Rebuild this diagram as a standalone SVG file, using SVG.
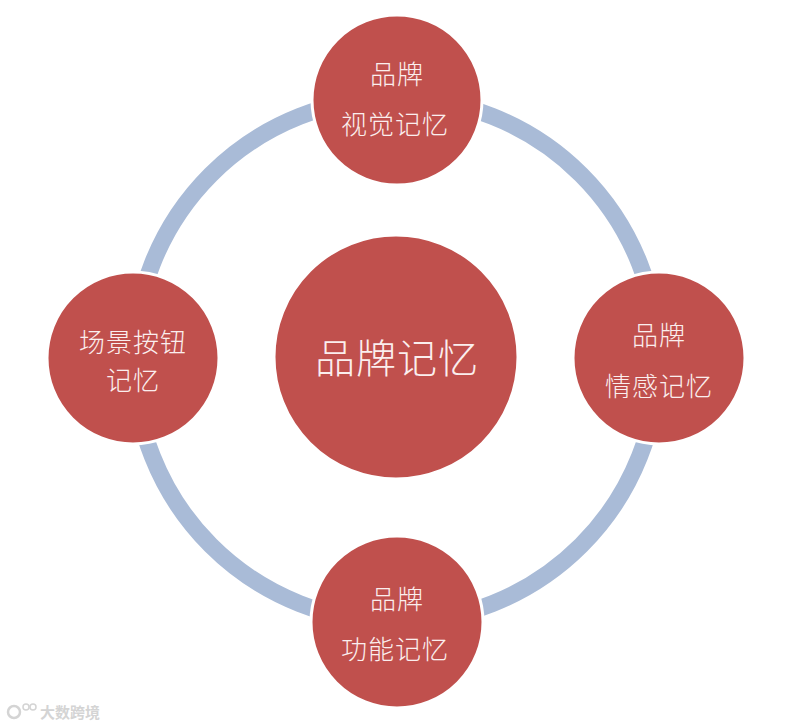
<svg xmlns="http://www.w3.org/2000/svg" width="788" height="727" viewBox="0 0 788 727">
<style>
.node{fill:#c0504d;stroke:#ffffff;stroke-width:3}
.lbl{fill:#fbeeee;font-family:"Noto Sans CJK SC","Noto Sans CJK JP",sans-serif;font-weight:300;text-anchor:middle;dominant-baseline:central}
.s{font-size:26px;letter-spacing:1px}
.b{font-size:40px;letter-spacing:1px}
.wm{fill:#d4d4d4;font-family:"Noto Sans CJK SC",sans-serif;font-size:15px;font-weight:700}
</style>
<rect width="788" height="727" fill="#ffffff"/>
<g id="connectors">
<circle cx="396" cy="360" r="262" fill="none" stroke="#a9bbd7" stroke-width="17"/>
</g>
<g id="center">
<circle class="node" cx="396" cy="357" r="122"/>
<text class="lbl b" x="397" y="356">品牌记忆</text>
</g>
<g id="top">
<circle class="node" cx="397" cy="100" r="85"/>
<text class="lbl s" x="397" y="72">品牌</text>
<text class="lbl s" x="395" y="122">视觉记忆</text>
</g>
<g id="left">
<circle class="node" cx="133" cy="358" r="86"/>
<text class="lbl s" x="133" y="340">场景按钮</text>
<text class="lbl s" x="133" y="378">记忆</text>
</g>
<g id="right">
<circle class="node" cx="659" cy="358" r="86"/>
<text class="lbl s" x="659" y="333">品牌</text>
<text class="lbl s" x="659" y="384">情感记忆</text>
</g>
<g id="bottom">
<circle class="node" cx="397" cy="622" r="86"/>
<text class="lbl s" x="397" y="597">品牌</text>
<text class="lbl s" x="395" y="647">功能记忆</text>
</g>
<g id="watermark">
<circle cx="14" cy="712" r="6" fill="none" stroke="#d4d4d4" stroke-width="2.5"/>
<circle cx="26" cy="707" r="3" fill="none" stroke="#d4d4d4" stroke-width="1.5"/>
<circle cx="33" cy="707" r="3" fill="none" stroke="#d4d4d4" stroke-width="1.5"/>
<text class="wm" x="40" y="718">大数跨境</text>
</g>
</svg>
